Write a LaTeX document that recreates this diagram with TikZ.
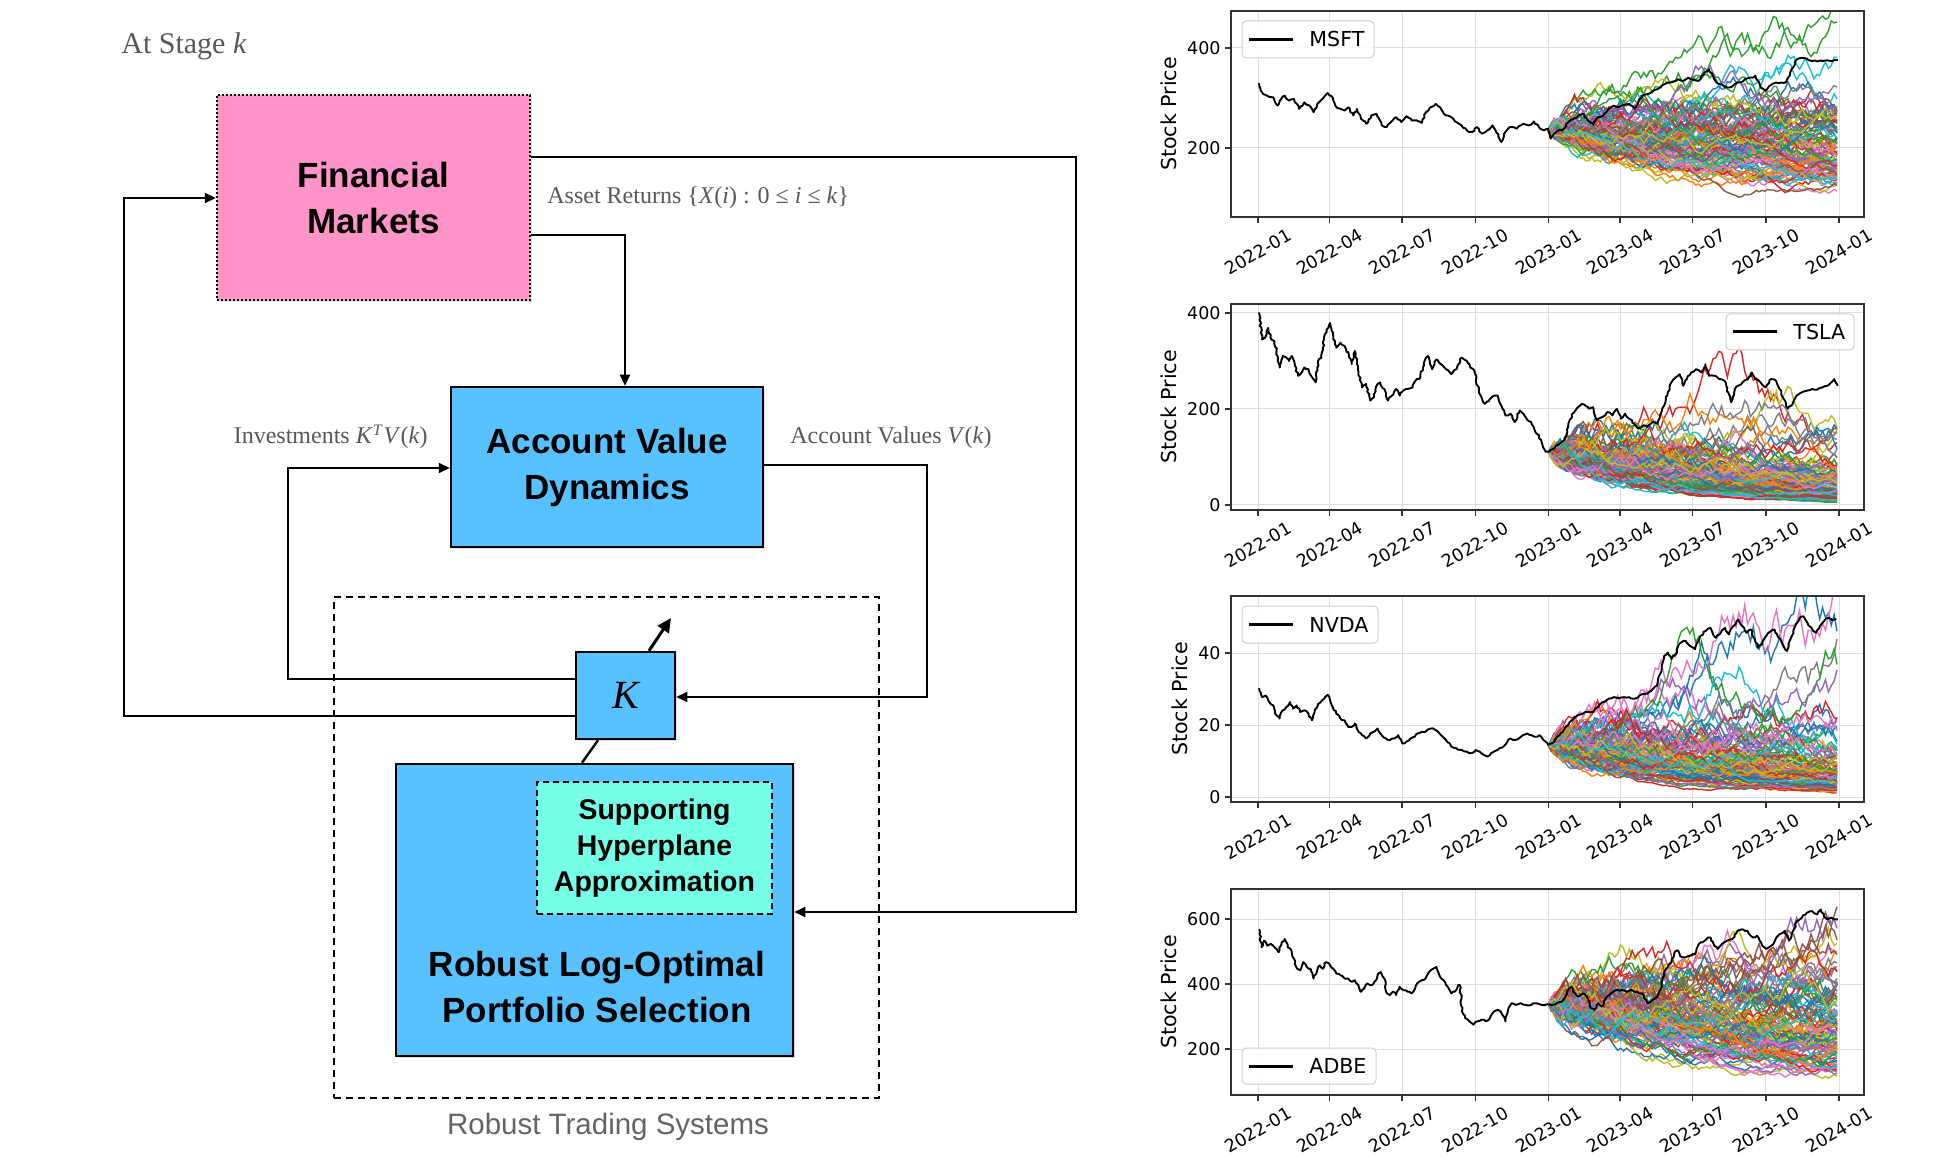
\documentclass[tikz,border=0pt]{standalone}
\usepackage{fontspec}
\setmainfont{Liberation Serif}
\setsansfont{Liberation Sans}
\newfontfamily\dvs{DejaVu Sans}
\usetikzlibrary{arrows.meta,shadows,decorations.pathmorphing}

\definecolor{fmpink}{RGB}{255,148,200}
\definecolor{boxblue}{RGB}{87,194,255}
\definecolor{aqua}{RGB}{117,255,230}
\definecolor{lblgray}{RGB}{88,88,88}
\definecolor{rtsgray}{RGB}{100,100,100}
\definecolor{tabc1}{HTML}{1F77B4}
\definecolor{tabc2}{HTML}{FF7F0E}
\definecolor{tabc3}{HTML}{2CA02C}
\definecolor{tabc4}{HTML}{D62728}
\definecolor{tabc5}{HTML}{9467BD}
\definecolor{tabc6}{HTML}{8C564B}
\definecolor{tabc7}{HTML}{E377C2}
\definecolor{tabc8}{HTML}{7F7F7F}
\definecolor{tabc9}{HTML}{BCBD22}
\definecolor{tabc0}{HTML}{17BECF}
\definecolor{gridc}{RGB}{222,222,222}
\definecolor{framec}{RGB}{50,50,50}

\newcommand\chartgrid[2]{%
  \foreach \xx in {1258,1329.6,1402.1,1475.3,1548.5,1620.1,1692.6,1765.8,1839}
    \draw[gridl] (\xx,#1) -- (\xx,#1+206);
  \foreach \yy in {#2}
    \draw[gridl] (1231,\yy) -- (1864,\yy);
}
\newcommand\chartframe[4]{%
  \draw[axframe] (1231,#1) rectangle (1864,#1+206);
  \foreach \xx/\ll [count=\n] in {1258/2022-01,1329.6/2022-04,1402.1/2022-07,1475.3/2022-10,1548.5/2023-01,1620.1/2023-04,1692.6/2023-07,1765.8/2023-10,1839/2024-01}{
    \draw[tickl] (\xx,#1+206) -- (\xx,#1+212);
    \node[xtl] (#4x\n) at (\xx,#1+241) {\ll};
  }
  \foreach \yy/\ll [count=\n] in {#2}{
    \draw[tickl] (1231,\yy) -- (1225,\yy);
    \node[ytl] (#4y\n) at (1221,\yy) {\ll};
  }
  \node[ylab] (#4lab) at (#3,#1+103) {Stock Price};
}
\newcommand\legendbox[6]{%
  \draw[legframe] (#1,#2) rectangle (#3,#4);
  \draw[line width=1.5pt] (#1+7,{(#2+#4)/2}) -- (#1+51,{(#2+#4)/2});
  \node[legtxt] (#6) at (#1+67,{(#2+#4)/2}) {#5};
}
\newcommand\simfan[5]{%
  \pgfmathsetseed{#1}%
  \foreach \p in {1,...,100}{%
    \pgfmathtruncatemacro\ci{mod(\p,10)}%
    \gdef\curL{0}%
    \draw[simline, draw=tabc\ci] (1548.5,{#2-#3})
      \foreach \i in {1,...,100}{
        \pgfextra{\pgfmathparse{\curL+(#5)+(#4)*rand}\global\let\curL\pgfmathresult}
        -- ({1548.5+2.885*\i},{#2-#3*exp(\curL)})
      };
  }%
}

\begin{document}
\begin{tikzpicture}[x=0.5pt,y=-0.5pt,
  conn/.style={line width=1pt, -{Triangle[length=5.5pt,width=5pt]}},
  plainline/.style={line width=1.2pt},
  bigarrow/.style={line width=1.5pt, -{Triangle[length=7pt,width=6.5pt]}},
  shade/.style={drop shadow={shadow xshift=0.9pt,shadow yshift=-0.9pt,opacity=0.25}},
  boxtxt/.style={font=\sffamily\bfseries\fontsize{17.5}{23}\selectfont, align=center},
  lbl/.style={text=lblgray, font=\fontsize{12}{14}\selectfont, inner sep=0},
  gridl/.style={draw=gridc, line width=0.5pt},
  axframe/.style={draw=framec, line width=0.8pt},
  tickl/.style={draw=framec, line width=0.7pt},
  xtl/.style={rotate=30, inner sep=0, font=\dvs\fontsize{8.75}{10}\selectfont},
  ytl/.style={anchor=east, inner sep=0, font=\dvs\fontsize{8.75}{10}\selectfont},
  ylab/.style={rotate=90, inner sep=0, font=\dvs\fontsize{10.3}{12}\selectfont},
  legframe/.style={draw=black!20, fill=white, fill opacity=0.85, line width=0.5pt, rounded corners=2pt},
  legtxt/.style={anchor=west, inner sep=0, font=\dvs\fontsize{10.3}{12}\selectfont},
  simline/.style={line width=0.7pt},
  blk/.style={line width=0.95pt, black, line join=round, decorate, decoration={random steps, segment length=1.3pt, amplitude=0.45pt}}
]
\useasboundingbox (0,0) rectangle (1955,1171);

% ---------------- Left diagram ----------------
\node[text=lblgray, font=\fontsize{15}{18}\selectfont, inner sep=0, anchor=base west] (stage) at (121,54) {At Stage \textit{k}};

\node[draw, line width=1pt, dash pattern=on 3.5pt off 2.5pt, minimum width=272.5pt, minimum height=250.5pt] (rts) at (606.5,847.5) {};
\node[text=rtsgray, font=\sffamily\fontsize{14.75}{17}\selectfont, inner sep=0] (rtslbl) at (608,1127) {Robust Trading Systems};

\node[draw, line width=1.2pt, dash pattern=on 1pt off 1pt, fill=fmpink, minimum width=156.5pt, minimum height=102.5pt, shade, boxtxt] (fm) at (373.5,197.5) {Financial\\Markets};
\node[draw, line width=1.25pt, fill=boxblue, minimum width=156pt, minimum height=80pt, shade, boxtxt] (avd) at (607,467) {Account Value\\Dynamics};
\node[draw, line width=1.25pt, fill=boxblue, minimum width=49.5pt, minimum height=43.5pt, shade, font=\fontsize{20}{24}\selectfont\itshape] (kbox) at (625.5,695.5) {K};
\node[draw, line width=1.25pt, fill=boxblue, minimum width=198.5pt, minimum height=146pt, shade] (rlo) at (594.5,910) {};
\node[draw, line width=1pt, dash pattern=on 3pt off 2pt, fill=aqua, minimum width=117.5pt, minimum height=66pt, align=center, font=\sffamily\bfseries\fontsize{14.25}{18}\selectfont] (sha) at (654.5,848) {Supporting\\Hyperplane\\Approximation};
\node[boxtxt, inner sep=0] (rlotxt) at (597,987) {Robust Log-Optimal\\Portfolio Selection};

% labels
\node[lbl, anchor=base west] (lasset) at (547,204) {Asset Returns \{\textit{X}(\textit{i}) : 0 ≤ \textit{i} ≤ \textit{k}\}};
\node[lbl, anchor=base east] (linv) at (428,444) {Investments \textit{K}\textsuperscript{\textit{T}}\textit{V}(\textit{k})};
\node[lbl, anchor=base west] (lacc) at (790,444) {Account Values \textit{V}(\textit{k})};

% connectors
\coordinate (r1) at (1076,157);
\coordinate (r2) at (1076,912);
\draw[conn] (fm.east |- r1) -- (r1) -- (r2) -- (rlo.east |- r2);
\coordinate (a1) at (625,235);
\draw[conn] (fm.east |- a1) -- (a1) -- (avd.north -| a1);
\coordinate (v1) at (927,465);
\coordinate (v2) at (927,697);
\draw[conn] (avd.east |- v1) -- (v1) -- (v2) -- (kbox.east |- v2);
\coordinate (i1) at (288,679);
\coordinate (i2) at (288,468);
\draw[conn] (kbox.west |- i1) -- (i1) -- (i2) -- (avd.west |- i2);
\coordinate (f1) at (124,716);
\coordinate (f2) at (124,198);
\draw[conn] (kbox.west |- f1) -- (f1) -- (f2) -- (fm.west |- f2);
\coordinate (ks) at (649,0);
\coordinate (kt) at (671,618);
\draw[bigarrow] (kbox.north -| ks) -- (kt);
\coordinate (kb1) at (598,0);
\coordinate (kb2) at (582,0);
\draw[plainline] (kbox.south -| kb1) -- (rlo.north -| kb2);

% ---------------- Charts ----------------
% Chart 1 MSFT
\chartgrid{11}{148,48}
\begin{scope}
\clip (1231,11) rectangle (1864,217);
\simfan{17}{248}{119}{0.049}{-0.0018}
\begin{scope}[shift={(1149.7,0)}, xscale=0.5155, yscale=0.330]
\draw[blk] plot coordinates {(212,252) (218,280) (228,290) (240,295) (248,320) (255,300) (262,290) (270,305) (280,300) (290,330) (300,310) (310,320) (318,340) (325,315) (335,300) (345,282) (352,290) (360,320) (370,330) (378,335) (385,325) (395,350) (402,330) (410,360) (420,375) (430,350) (440,345) (450,380) (460,385) (468,370) (478,355) (488,370) (498,352) (508,365) (518,365) (528,372) (536,340) (545,325) (555,315) (565,330) (575,350) (585,355) (595,370) (605,380) (615,395) (625,400) (635,385) (645,405) (655,395) (665,380) (672,400) (682,430) (690,400) (700,385) (712,390) (725,375) (735,380) (745,368) (755,385) (765,395) (773,390) (778,420) (790,398) (800,395) (812,370) (822,360) (832,350) (842,345) (850,365) (860,378) (870,355) (880,350) (890,330) (900,320) (910,325) (920,318) (930,315) (940,330) (948,310) (955,290) (965,285) (975,278) (985,270) (995,258) (1005,250) (1015,248) (1025,240) (1035,245) (1045,235) (1055,242) (1065,245) (1075,222) (1085,210) (1095,240) (1105,255) (1115,262) (1125,265) (1135,255) (1145,250) (1155,240) (1165,235) (1175,230) (1185,265) (1195,275) (1205,258) (1215,250) (1225,250) (1235,248) (1245,210) (1255,180) (1265,175) (1275,178) (1285,185) (1295,186) (1305,185) (1315,183) (1325,185) (1335,182)};
\end{scope}
\end{scope}
\chartframe{11}{148/200,48/400}{1169}{c1}
\legendbox{1242}{21}{1374}{58}{MSFT}{leg1}

% Chart 2 TSLA
\chartgrid{304}{505,409,313}
\begin{scope}
\clip (1231,304) rectangle (1864,510);
\simfan{29}{505}{53.3}{0.118}{-0.0102}
\begin{scope}[shift={(1149.7,290)}, xscale=0.5155, yscale=0.330]
\draw[blk] plot coordinates {(212,68) (218,150) (225,140) (230,115) (236,150) (242,155) (248,200) (252,235) (258,200) (265,205) (270,215) (276,200) (282,230) (288,260) (295,250) (300,235) (308,240) (315,265) (322,280) (328,210) (333,205) (338,150) (343,120) (350,100) (356,140) (362,175) (370,160) (378,170) (386,195) (392,225) (398,185) (405,250) (412,295) (420,285) (428,335) (435,325) (440,290) (447,280) (455,300) (462,335) (470,320) (478,300) (485,320) (492,305) (500,300) (510,295) (518,270) (525,265) (532,220) (540,200) (548,240) (556,210) (565,225) (575,240) (585,255) (595,240) (605,205) (615,215) (622,235) (630,245) (636,290) (642,320) (650,345) (660,330) (668,320) (675,320) (682,350) (690,380) (700,375) (708,400) (718,365) (725,375) (733,395) (740,400) (748,430) (755,440) (762,470) (768,490) (775,490) (785,480) (795,465) (805,455) (812,410) (820,375) (828,360) (838,345) (845,350) (852,360) (860,355) (868,395) (878,385) (888,370) (898,380) (906,360) (914,390) (922,375) (930,390) (940,405) (948,420) (958,410) (965,415) (975,400) (985,405) (990,380) (998,350) (1005,310) (1012,280) (1020,265) (1028,255) (1035,290) (1042,270) (1050,250) (1060,240) (1070,250) (1078,225) (1085,260) (1095,260) (1105,270) (1115,275) (1122,310) (1128,340) (1135,300) (1142,290) (1150,280) (1160,270) (1168,250) (1175,270) (1185,280) (1195,295) (1205,270) (1215,275) (1222,300) (1230,330) (1238,360) (1245,350) (1255,320) (1265,310) (1275,305) (1285,300) (1295,302) (1305,295) (1315,290) (1322,280) (1328,270) (1335,290)};
\end{scope}
\end{scope}
\chartframe{304}{505/0,409/200,313/400}{1169}{c2}
\legendbox{1726}{314}{1854}{350}{TSLA}{leg2}

% Chart 3 NVDA
\chartgrid{596}{797,725,653}
\begin{scope}
\clip (1231,596) rectangle (1864,802);
\simfan{37}{797}{51.8}{0.121}{-0.0059}
\begin{scope}[shift={(1149.7,580)}, xscale=0.5155, yscale=0.330]
\draw[blk] plot coordinates {(212,328) (218,355) (225,350) (232,370) (240,380) (246,410) (252,420) (258,395) (265,385) (272,370) (278,390) (285,380) (292,400) (300,395) (308,405) (315,425) (320,400) (327,375) (334,365) (340,355) (345,348) (350,365) (355,385) (362,405) (370,420) (378,425) (385,445) (392,445) (398,435) (405,460) (412,470) (420,480) (428,465) (435,460) (442,450) (450,470) (458,480) (466,485) (475,480) (482,470) (490,495) (498,490) (506,480) (514,475) (520,465) (528,460) (535,460) (545,450) (555,455) (565,470) (575,485) (585,505) (595,510) (605,515) (615,520) (625,525) (632,515) (640,520) (648,530) (655,535) (662,525) (670,518) (678,510) (686,505) (694,490) (700,480) (708,485) (716,480) (724,470) (732,465) (740,470) (748,475) (756,470) (764,485) (773,500) (780,495) (788,480) (795,470) (805,450) (815,430) (822,420) (830,410) (840,405) (850,400) (860,400) (870,385) (880,370) (890,360) (900,355) (910,358) (920,355) (930,355) (940,360) (950,350) (960,345) (968,340) (976,330) (984,320) (990,285) (998,230) (1005,220) (1012,240) (1020,225) (1030,190) (1040,185) (1048,200) (1058,210) (1068,170) (1078,155) (1088,145) (1098,175) (1108,160) (1116,145) (1124,165) (1132,140) (1142,120) (1150,140) (1158,160) (1166,150) (1174,180) (1180,205) (1188,195) (1196,170) (1205,155) (1212,150) (1220,175) (1228,195) (1236,215) (1244,175) (1252,140) (1260,115) (1268,110) (1276,130) (1284,145) (1292,160) (1300,140) (1308,125) (1316,115) (1324,122) (1332,118)};
\end{scope}
\end{scope}
\chartframe{596}{797/0,725/20,653/40}{1180}{c3}
\legendbox{1242}{606}{1378}{643}{NVDA}{leg3}

% Chart 4 ADBE
\chartgrid{889}{1049,984,919}
\begin{scope}
\clip (1231,889) rectangle (1864,1095);
\simfan{53}{1114.6}{110.4}{0.066}{-0.0030}
\begin{scope}[shift={(1149.7,870)}, xscale=0.5155, yscale=0.329]
\draw[blk] plot coordinates {(212,180) (217,235) (222,215) (228,230) (235,225) (242,235) (250,250) (256,220) (262,210) (268,235) (275,245) (280,270) (286,300) (292,305) (298,280) (305,295) (312,300) (318,330) (325,305) (330,290) (336,300) (342,280) (350,290) (356,300) (362,315) (370,320) (378,330) (385,330) (392,340) (398,335) (405,350) (410,370) (416,360) (422,345) (430,350) (436,340) (442,320) (448,310) (455,330) (460,375) (466,380) (472,370) (478,380) (485,355) (492,365) (500,370) (508,375) (515,360) (522,340) (528,335) (535,330) (542,310) (550,300) (556,295) (562,320) (570,335) (578,355) (585,375) (592,370) (598,350) (602,350) (606,430) (612,450) (620,460) (628,470) (636,460) (644,455) (652,460) (660,450) (668,430) (676,425) (684,440) (690,460) (696,420) (702,405) (710,410) (720,405) (730,410) (740,410) (750,405) (760,410) (770,408) (780,410) (790,405) (800,400) (810,370) (818,355) (825,375) (832,385) (840,375) (848,385) (855,420) (862,425) (870,405) (878,415) (885,390) (892,380) (900,370) (908,365) (916,365) (925,370) (935,365) (945,370) (955,375) (965,405) (975,395) (985,385) (992,360) (998,310) (1005,295) (1012,280) (1018,250) (1025,245) (1032,265) (1040,265) (1050,260) (1058,255) (1065,225) (1072,220) (1080,210) (1088,205) (1095,230) (1102,240) (1110,225) (1120,215) (1130,210) (1140,185) (1150,180) (1160,185) (1170,205) (1178,200) (1188,230) (1196,240) (1206,230) (1214,210) (1222,195) (1232,185) (1240,215) (1248,185) (1256,155) (1265,145) (1275,130) (1285,125) (1295,135) (1302,120) (1308,140) (1315,150) (1322,145) (1328,150) (1335,150)};
\end{scope}
\end{scope}
\chartframe{889}{1049/200,984/400,919/600}{1169}{c4}
\legendbox{1242}{1048}{1376}{1084}{ADBE}{leg4}

\end{tikzpicture}
\end{document}
